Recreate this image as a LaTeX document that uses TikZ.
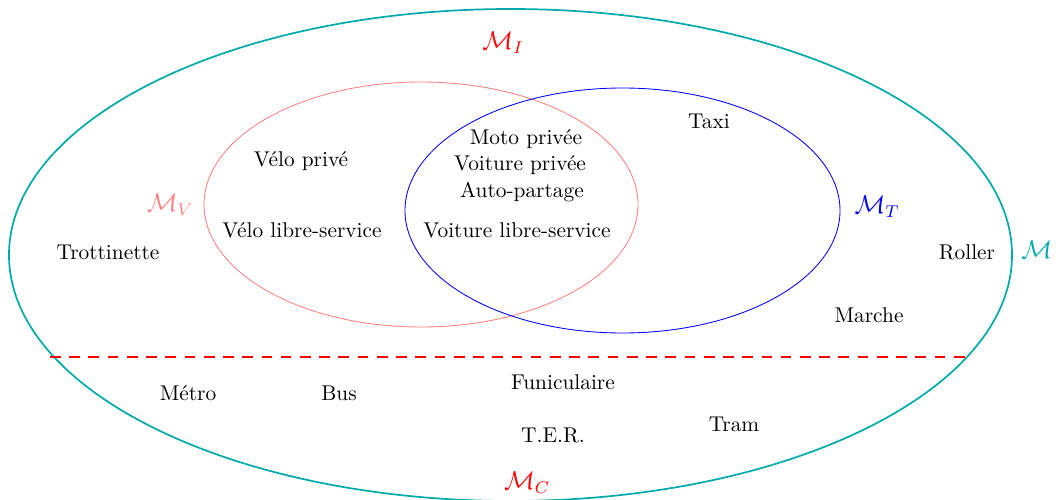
\documentclass[tikz,border=0pt]{standalone}
\usepackage{amsmath}
\definecolor{outerc}{RGB}{0,170,170}
\definecolor{vcol}{RGB}{255,128,128}
\begin{document}
\begin{tikzpicture}[x=0.468pt,y=-0.468pt,
  lbl/.style={inner sep=0pt,anchor=center},
  setlbl/.style={inner sep=0pt,anchor=center,font=\large}]
\useasboundingbox (0,0) rectangle (1062,499);
\clip (0,0) rectangle (1062,499);
% sets
\draw[outerc,line width=0.8pt] (510.5,255) ellipse [x radius=501.5, y radius=246];
\draw[vcol,line width=0.4pt] (421,204.5) ellipse [x radius=217, y radius=122.5];
\draw[blue,line width=0.4pt] (622.5,210.5) ellipse [x radius=217.5, y radius=122.5];
% dashed separation
\coordinate (dl) at (50,357);
\coordinate (dr) at (970,357);
\draw[red,line width=0.7pt,dash pattern=on 5pt off 4pt] (dl) -- (dr);
% set labels
\node[setlbl,text=red] (MI) at (503,43) {$\mathcal{M}_I$};
\node[setlbl,text=vcol] (MV) at (170,205) {$\mathcal{M}_V$};
\node[setlbl,text=blue] (MT) at (877,207) {$\mathcal{M}_T$};
\node[setlbl,text=outerc,anchor=west] (M) at (1021,250) {$\mathcal{M}$};
\node[setlbl,text=red] (MC) at (527,483) {$\mathcal{M}_C$};
% modes
\node[lbl] (velop) at (301,161) {Vélo privé};
\node[lbl] (velols) at (302,230) {Vélo libre-service};
\node[lbl] (moto) at (526,139) {Moto privée};
\node[lbl] (voitp) at (520,165) {Voiture privée};
\node[lbl] (auto) at (522,192) {Auto-partage};
\node[lbl] (voitls) at (517,230) {Voiture libre-service};
\node[lbl] (taxi) at (709,121) {Taxi};
\node[lbl] (trot) at (108,252) {Trottinette};
\node[lbl] (roller) at (967,252) {Roller};
\node[lbl] (marche) at (869,315) {Marche};
\node[lbl] (metro) at (188,393) {Métro};
\node[lbl] (bus) at (339,393) {Bus};
\node[lbl] (funi) at (563,382) {Funiculaire};
\node[lbl] (ter) at (553,435) {T.E.R.};
\node[lbl] (tram) at (734,424) {Tram};
\end{tikzpicture}
\end{document}
